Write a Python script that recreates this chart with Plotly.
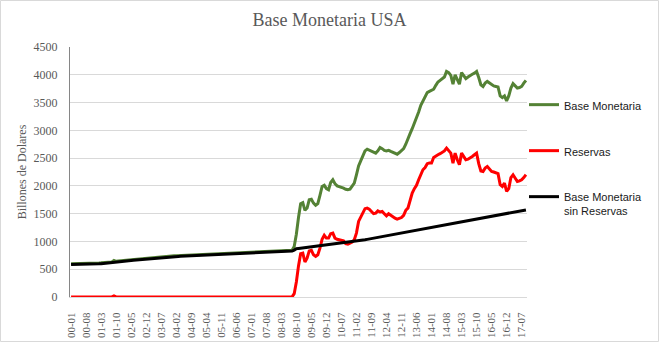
import plotly.graph_objects as go

# Monthly categories, Jan 2000 .. Sep 2017, labelled "YY-MM"
months = [f"{y % 100:02d}-{m:02d}" for y in range(2000, 2018) for m in range(1, 13)][:213]
tick_labels = months[::7]

# Monetary base (billions of USD)
base_monetaria = [
    600, 600, 601, 602, 603, 603, 604, 605, 605, 606, 607, 609,
    611, 613, 615, 618, 621, 624, 627, 631, 658, 643, 647, 651,
    655, 659, 663, 667, 671, 675, 679, 683, 687, 691, 695, 699,
    703, 707, 711, 714, 717, 720, 723, 726, 729, 732, 735, 738,
    741, 743, 745, 747, 749, 751, 753, 755, 757, 759, 761, 763,
    765, 767, 769, 771, 773, 775, 777, 779, 781, 783, 785, 787,
    789, 791, 793, 795, 797, 799, 801, 803, 805, 807, 809, 811,
    813, 815, 816, 817, 818, 819, 821, 823, 824, 825, 827, 829,
    831, 832, 833, 835, 837, 839, 841, 843, 910, 1130, 1430, 1680,
    1700, 1560, 1600, 1750, 1760, 1690, 1650, 1680, 1830, 1990, 2010, 1950,
    1930, 2060, 2110, 2040, 2000, 1990, 1980, 1960, 1940, 1930, 1940, 1990,
    2050, 2200, 2360, 2450, 2560, 2630, 2660, 2640, 2620, 2600, 2590, 2630,
    2690, 2670, 2640, 2630, 2640, 2620, 2600, 2590, 2570, 2600, 2630, 2670,
    2750, 2830, 2940, 3030, 3120, 3230, 3330, 3450, 3530, 3590, 3680, 3700,
    3720, 3740, 3810, 3870, 3900, 3930, 3960, 4060, 4040, 3990, 3830, 4000,
    3900, 3830, 4040, 3990, 3930, 3960, 3990, 4010, 4030, 4060, 3950, 3820,
    3790, 3850, 3880, 3850, 3820, 3800, 3790, 3780, 3620, 3590, 3620, 3530,
    3620, 3760, 3840, 3790, 3760, 3770, 3790, 3850, 3900,
]

# Excess reserves (billions of USD)
reservas = [
    1, 1, 1, 1, 1, 1, 1, 1, 1, 1, 1, 1,
    1, 1, 1, 1, 1, 1, 1, 1, 19, 2, 1, 1,
    1, 1, 1, 1, 1, 1, 1, 1, 1, 1, 1, 2,
    1, 1, 1, 1, 1, 1, 1, 1, 1, 1, 1, 2,
    1, 1, 1, 1, 1, 1, 1, 1, 1, 1, 1, 2,
    1, 1, 1, 1, 1, 1, 1, 1, 1, 1, 1, 2,
    1, 1, 1, 1, 1, 1, 1, 1, 1, 1, 1, 2,
    1, 1, 1, 1, 1, 1, 1, 1, 1, 1, 1, 2,
    2, 2, 2, 2, 2, 2, 2, 2, 60, 270, 560, 780,
    790, 630, 700, 830, 840, 760, 730, 760, 880, 1040, 1110, 1060,
    1060, 1140, 1150, 1060, 1040, 1030, 1020, 1010, 960, 950, 970, 990,
    1030, 1150, 1360, 1440, 1520, 1590, 1600, 1580, 1540, 1500, 1510, 1550,
    1530, 1540, 1500, 1460, 1500, 1470, 1450, 1420, 1400, 1420, 1430, 1470,
    1560, 1600, 1740, 1870, 1950, 2010, 2110, 2200, 2290, 2330, 2400, 2410,
    2410, 2510, 2540, 2560, 2580, 2600, 2630, 2680, 2630, 2590, 2410, 2590,
    2470, 2380, 2590, 2520, 2470, 2480, 2500, 2530, 2560, 2590, 2400, 2270,
    2260, 2320, 2350, 2300, 2260, 2250, 2230, 2220, 2020, 1990, 2050, 1900,
    1950, 2150, 2200, 2130, 2080, 2090, 2110, 2150, 2200,
]

# Monetary base excluding excess reserves (billions of USD)
base_sin_reservas = [
    585, 585, 586, 587, 588, 588, 589, 590, 590, 591, 592, 594,
    596, 598, 600, 603, 606, 609, 612, 616, 624, 628, 632, 636,
    640, 644, 648, 652, 656, 660, 664, 668, 672, 676, 680, 684,
    688, 692, 696, 699, 702, 705, 708, 711, 714, 717, 720, 723,
    726, 728, 730, 732, 734, 736, 738, 740, 742, 744, 746, 748,
    750, 752, 754, 756, 758, 760, 762, 764, 766, 768, 770, 772,
    774, 776, 778, 780, 782, 784, 786, 788, 790, 792, 794, 796,
    798, 800, 801, 802, 803, 804, 806, 808, 809, 810, 812, 814,
    816, 817, 818, 820, 822, 824, 826, 828, 845, 868, 875, 880,
    884, 888, 892, 896, 900, 904, 908, 912, 916, 920, 924, 928,
    933, 938, 943, 948, 953, 958, 963, 968, 973, 978, 983, 988,
    995, 1002, 1009, 1016, 1023, 1030, 1037, 1044, 1051, 1058, 1065, 1072,
    1079, 1086, 1093, 1100, 1107, 1114, 1121, 1128, 1135, 1142, 1149, 1156,
    1163, 1171, 1178, 1186, 1193, 1201, 1208, 1216, 1223, 1231, 1238, 1246,
    1253, 1261, 1268, 1276, 1283, 1291, 1298, 1306, 1313, 1321, 1328, 1336,
    1343, 1350, 1357, 1364, 1371, 1378, 1385, 1392, 1399, 1406, 1413, 1420,
    1427, 1434, 1441, 1448, 1455, 1462, 1469, 1476, 1483, 1490, 1497, 1504,
    1511, 1518, 1525, 1532, 1539, 1546, 1553, 1560, 1567,
]

series = [
    ("Base Monetaria", base_monetaria, "#548235"),
    ("Reservas", reservas, "#ff0000"),
    ("Base Monetaria<br>sin Reservas", base_sin_reservas, "#000000"),
]

W, H = 659, 342
ML, MR, MT, MB = 70, 132, 47, 45

fig = go.Figure()
for i, (name, vals, color) in enumerate(series):
    fig.add_trace(go.Scatter(
        x=months, y=vals, name=name, mode="lines",
        line=dict(color=color, width=3),
        legendgroup=str(i),
    ))

serif = "Liberation Serif, Times New Roman, serif"
grey = "#595959"

pw, ph = W - ML - MR, H - MT - MB
fig.update_layout(
    width=W, height=H,
    margin=dict(l=ML, r=MR, t=MT, b=MB, autoexpand=False),
    paper_bgcolor="white", plot_bgcolor="white",
    title=dict(text="Base Monetaria USA", x=0.5, xref="container",
               y=1 - 20 / H, yref="container", yanchor="middle", xanchor="center",
               font=dict(family=serif, size=18, color=grey)),
    showlegend=True,
    legend=dict(x=(524 - ML) / pw, xanchor="left", y=(297 - 91) / ph, yanchor="top",
                font=dict(family="Liberation Sans, Arial, sans-serif", size=11, color="#1a1a1a"),
                tracegroupgap=27, valign="top", bgcolor="rgba(0,0,0,0)"),
    xaxis=dict(type="category", range=[-0.5, len(months) - 0.5], automargin=False,
               tickmode="array", tickvals=tick_labels, ticktext=tick_labels,
               tickangle=-90, showgrid=False, zeroline=False,
               showline=True, linecolor="#d9d9d9", linewidth=1,
               ticks="", ticklabelstandoff=10,
               tickfont=dict(family=serif, size=11, color=grey)),
    yaxis=dict(range=[0, 4500], dtick=500, showgrid=True, gridcolor="#d9d9d9",
               gridwidth=1, zeroline=False, showline=True, linecolor="#868686",
               linewidth=1, ticks="", ticklabelstandoff=9, automargin=False,
               tickfont=dict(family=serif, size=12, color=grey),
               title=dict(text="Billones de Dolares", standoff=4,
                          font=dict(family=serif, size=12, color=grey))),
    shapes=[dict(type="rect", xref="paper", yref="paper",
                 x0=(0.5 - ML) / pw, x1=(W - 0.5 - ML) / pw,
                 y0=-(MB - 0.5) / ph, y1=1 + (MT - 0.5) / ph,
                 line=dict(color="#d9d9d9", width=1), layer="below")],
)

fig.write_html("out.html")
